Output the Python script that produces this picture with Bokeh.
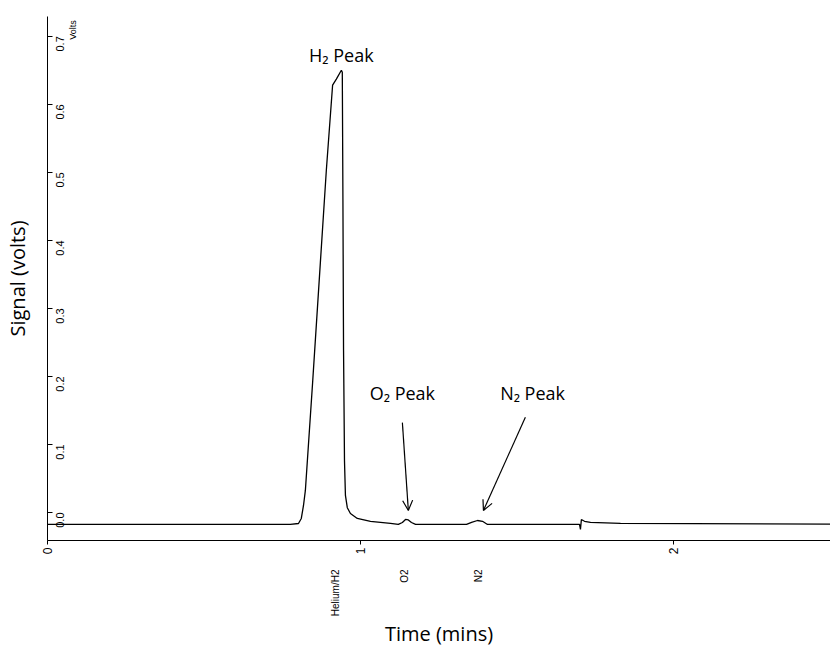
import math
from bokeh.plotting import figure
from bokeh.models import Range1d, Arrow, OpenHead, FixedTicker, LinearAxis
from bokeh.core.properties import value
from bokeh.embed import file_html
from bokeh.resources import INLINE

# --- data ---
time_min = [0.000, 0.776, 0.802, 0.811, 0.818, 0.824, 0.847, 0.872, 0.891, 0.911,
            0.923, 0.939, 0.942, 0.944, 0.946, 0.949, 0.952, 0.958, 0.968, 0.990,
            1.032, 1.096, 1.121, 1.134, 1.144, 1.153, 1.163, 1.176, 1.339, 1.355,
            1.374, 1.390, 1.406, 1.700, 1.703, 1.706, 1.716, 1.735, 1.831, 2.502]
signal_v = [-0.0176, -0.0176, -0.0162, -0.0088, 0.0103, 0.0324, 0.190, 0.368, 0.503, 0.628,
            0.637, 0.650, 0.647, 0.459, 0.238, 0.076, 0.025, 0.007, -0.0015, -0.0088,
            -0.013, -0.016, -0.0176, -0.0147, -0.0103, -0.011, -0.0147, -0.0176, -0.0176, -0.0147,
            -0.0118, -0.013, -0.0176, -0.0176, -0.025, -0.0103, -0.013, -0.0147, -0.016, -0.017]

y_ticks = [0.0, 0.1, 0.2, 0.3, 0.4, 0.5, 0.6, 0.7]
y_tick_labels = ["0.0", "0.1", "0.2", "0.3", "0.4", "0.5", "0.6", "0.7"]
x_ticks = [0, 1, 2]
x_tick_labels = ["0", "1", "2"]

peak_names = ["Helium/H2", "O2", "N2"]
peak_times = [0.920, 1.141, 1.377]

ann_texts = ["H\u2082 Peak", "O\u2082 Peak", "N\u2082 Peak"]
ann_x = [0.939, 1.134, 1.550]
ann_y = [0.672, 0.176, 0.176]

arrow_x_start = [1.134, 1.527]
arrow_y_start = [0.132, 0.140]
arrow_x_end = [1.153, 1.393]
arrow_y_end = [0.003, 0.003]

X_MAX = 2.502
Y_MIN, Y_MAX = -0.0412, 0.729

TICK_FONT = "Liberation Sans"
TEXT_FONT = "Open Sans"

p = figure(width=830, height=653, output_backend="svg", toolbar_location=None,
           x_range=Range1d(0, X_MAX), y_range=Range1d(Y_MIN, Y_MAX),
           min_border_left=47, min_border_right=0, min_border_top=16, min_border_bottom=113)
p.outline_line_color = None
p.grid.visible = False
p.background_fill_color = "white"
p.border_fill_color = "white"

# y axis: inward ticks, rotated labels drawn inside the frame
ya = p.yaxis[0]
ya.ticker = FixedTicker(ticks=y_ticks)
ya.major_label_overrides = {t: s for t, s in zip(y_ticks, y_tick_labels)}
ya.major_tick_in = 5
ya.major_tick_out = 0
ya.minor_tick_line_color = None
ya.major_label_orientation = math.pi / 2
ya.major_label_standoff = -13
ya.major_label_text_font = TICK_FONT
ya.major_label_text_font_size = "11px"
ya.major_label_text_color = "black"
ya.axis_line_color = "black"
ya.major_tick_line_color = "black"
ya.axis_label = "Signal (volts)"
ya.axis_label_text_font = TEXT_FONT
ya.axis_label_text_font_size = "20px"
ya.axis_label_text_font_style = "normal"
ya.axis_label_text_color = "black"
ya.axis_label_standoff = 19

# x axis with time ticks
xa = p.xaxis[0]
xa.ticker = FixedTicker(ticks=x_ticks)
xa.major_label_overrides = {t: s for t, s in zip(x_ticks, x_tick_labels)}
xa.major_tick_in = 0
xa.major_tick_out = 4
xa.minor_tick_line_color = None
xa.major_label_orientation = math.pi / 2
xa.major_label_standoff = 3
xa.major_label_text_font = TICK_FONT
xa.major_label_text_font_size = "12px"
xa.major_label_text_color = "black"
xa.axis_line_color = "black"

# second bottom axis carrying the component names and the axis title
na = LinearAxis(ticker=FixedTicker(ticks=peak_times),
                major_label_overrides={t: s for t, s in zip(peak_times, peak_names)})
na.axis_line_color = None
na.major_tick_line_color = None
na.minor_tick_line_color = None
na.major_label_orientation = math.pi / 2
na.major_label_standoff = 6
na.major_label_text_font = TICK_FONT
na.major_label_text_font_size = "10px"
na.major_label_text_color = "black"
na.axis_label = "Time (mins)"
na.axis_label_text_font = TEXT_FONT
na.axis_label_text_font_size = "20px"
na.axis_label_text_font_style = "normal"
na.axis_label_text_color = "black"
na.axis_label_standoff = 1
p.add_layout(na, "below")

# signal trace
p.line(time_min, signal_v, line_color="black", line_width=1.3)

p.text(x=[0.082], y=[0.709], text=["Volts"], angle=math.pi / 2,
       text_align="center", text_baseline="middle",
       text_font=value(TICK_FONT), text_font_size="9px", text_color="black")

# peak annotations
p.text(x=ann_x, y=ann_y, text=ann_texts, text_align="center", text_baseline="middle",
       text_font=value(TEXT_FONT), text_font_size="18px", text_color="black")

for xs, ys, xe, ye in zip(arrow_x_start, arrow_y_start, arrow_x_end, arrow_y_end):
    p.add_layout(Arrow(end=OpenHead(size=10, line_width=1.2, line_color="black"),
                       x_start=xs, y_start=ys, x_end=xe, y_end=ye,
                       line_color="black", line_width=1.2))

open("out.html", "w").write(file_html(p, INLINE))
